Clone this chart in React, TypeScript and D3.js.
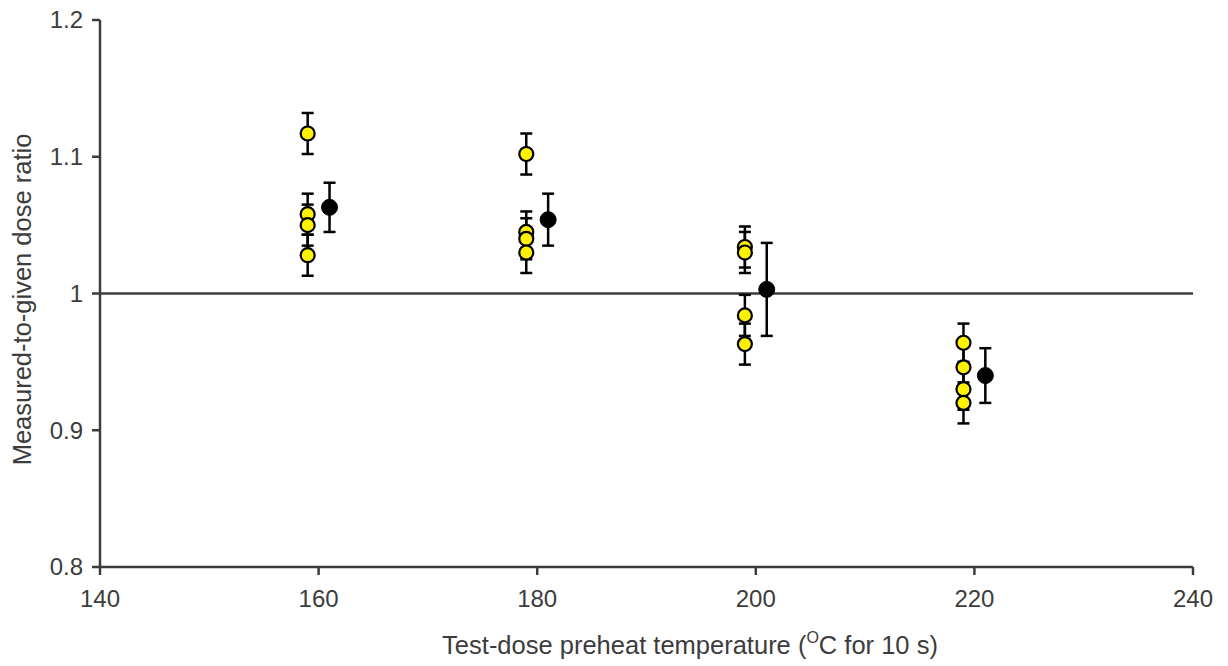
import React from "react";
import * as d3 from "d3";

// Test-dose preheat temperature groups (°C)
const temperatures = [160, 180, 200, 220];

// Individual aliquot ratios (yellow), plotted 1 °C left of the group temperature
const aliquotTemp = [159, 159, 159, 159, 179, 179, 179, 179, 199, 199, 199, 199, 219, 219, 219, 219];
const aliquotRatio = [1.117, 1.058, 1.05, 1.028, 1.102, 1.045, 1.04, 1.03, 1.034, 1.03, 0.984, 0.963, 0.964, 0.946, 0.93, 0.92];
const aliquotErr = [0.015, 0.015, 0.015, 0.015, 0.015, 0.015, 0.015, 0.015, 0.015, 0.015, 0.015, 0.015, 0.014, 0.015, 0.015, 0.015];

// Group means (black), plotted 1 °C right of the group temperature
const meanTemp = temperatures.map((t) => t + 1);
const meanRatio = [1.063, 1.054, 1.003, 0.94];
const meanErr = [0.018, 0.019, 0.034, 0.02];

const xTicks = [140, 160, 180, 200, 220, 240];
const yTicks = [0.8, 0.9, 1.0, 1.1, 1.2];

const W = 1228;
const H = 666;
const M = { left: 100, right: 35, top: 20, bottom: 99 };

const ink = "#3c3c3c";
const font = "Liberation Sans, Arial, sans-serif";

export default function App() {
  const x = d3.scaleLinear().domain([140, 240]).range([M.left, W - M.right]);
  const y = d3.scaleLinear().domain([0.8, 1.2]).range([H - M.bottom, M.top]);
  const cap = 6;

  const errorBar = (tx: number, v: number, e: number, key: string) => {
    const cx = x(tx);
    const y1 = y(v + e);
    const y2 = y(v - e);
    return (
      <g key={key} stroke="#000" strokeWidth={2.5}>
        <line x1={cx} x2={cx} y1={y1} y2={y2} />
        <line x1={cx - cap} x2={cx + cap} y1={y1} y2={y1} />
        <line x1={cx - cap} x2={cx + cap} y1={y2} y2={y2} />
      </g>
    );
  };

  return (
    <svg width={W} height={H} style={{ position: "absolute", left: 0, top: 0, background: "#fff" }}>
      {/* axes */}
      <g stroke={ink} strokeWidth={2.5} fill="none">
        <line x1={x(140)} x2={x(140)} y1={y(0.8)} y2={y(1.2)} />
        <line x1={x(140)} x2={x(240)} y1={y(0.8)} y2={y(0.8)} />
        {yTicks.map((t) => (
          <line key={"yt" + t} x1={x(140) - 8} x2={x(140)} y1={y(t)} y2={y(t)} />
        ))}
        {xTicks.map((t) => (
          <line key={"xt" + t} x1={x(t)} x2={x(t)} y1={y(0.8)} y2={y(0.8) + 8} />
        ))}
        {/* reference line at ratio 1 */}
        <line x1={x(140)} x2={x(240)} y1={y(1)} y2={y(1)} />
      </g>

      <g fill={ink} fontFamily={font}>
        {yTicks.map((t) => (
          <text key={"yl" + t} x={x(140) - 17} y={y(t)} dy="0.35em" textAnchor="end" fontSize={24}>
            {d3.format("")(+t.toFixed(1))}
          </text>
        ))}
        {xTicks.map((t) => (
          <text key={"xl" + t} x={x(t)} y={y(0.8) + 40} textAnchor="middle" fontSize={24}>
            {t}
          </text>
        ))}
        <text x={690} y={654} textAnchor="middle" fontSize={25.5}>
          Test-dose preheat temperature (
          <tspan fontSize={16} dy={-11}>O</tspan>
          <tspan dy={11}>C for 10 s)</tspan>
        </text>
        <text transform={`translate(31,${y(1) + 6}) rotate(-90)`} textAnchor="middle" fontSize={25.5}>
          Measured-to-given dose ratio
        </text>
      </g>

      {/* error bars */}
      {aliquotTemp.map((t, i) => errorBar(t, aliquotRatio[i], aliquotErr[i], "ae" + i))}
      {meanTemp.map((t, i) => errorBar(t, meanRatio[i], meanErr[i], "me" + i))}

      {/* markers */}
      {aliquotTemp.map((t, i) => (
        <circle key={"a" + i} cx={x(t)} cy={y(aliquotRatio[i])} r={7} fill="#fff200" stroke="#000" strokeWidth={2.2} />
      ))}
      {meanTemp.map((t, i) => (
        <circle key={"m" + i} cx={x(t)} cy={y(meanRatio[i])} r={8} fill="#000" stroke="#000" strokeWidth={1} />
      ))}
    </svg>
  );
}
